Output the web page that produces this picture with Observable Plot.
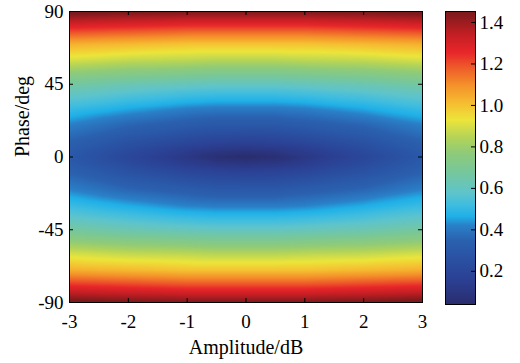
<!DOCTYPE html>
<html><head><meta charset="utf-8">
<script src="https://cdn.jsdelivr.net/npm/d3@7"></script>
<script src="https://cdn.jsdelivr.net/npm/@observablehq/plot@0.6"></script>
<style>
body{margin:0;background:#fff}
#wrap{position:relative;width:520px;height:363px;background:#fff}
#wrap svg{position:absolute;left:0;top:0}
#wrap svg text{font-family:"Liberation Serif","Times New Roman",serif}
</style>
</head><body><div id="wrap"></div>
<script>
// ---- data ----
const amplitude = [-3, -2, -1, -0.5, 0, 0.5, 1, 2, 3];          // dB
const phase = [90, 80, 70, 60, 50, 45, 40, 30, 20, 10, 5, 0,
               -5, -10, -20, -30, -40, -45, -50, -60, -70, -80, -90]; // deg
const level = [
  [1.48,1.46,1.45,1.45,1.45,1.45,1.45,1.46,1.48],
  [1.26,1.24,1.22,1.22,1.22,1.22,1.22,1.24,1.26],
  [1.04,1.02,1.00,1.00,1.00,1.00,1.00,1.02,1.04],
  [0.90,0.87,0.86,0.85,0.85,0.85,0.86,0.87,0.90],
  [0.74,0.71,0.69,0.68,0.68,0.68,0.69,0.71,0.74],
  [0.67,0.63,0.61,0.60,0.60,0.60,0.61,0.63,0.67],
  [0.61,0.57,0.54,0.53,0.53,0.53,0.54,0.57,0.61],
  [0.51,0.46,0.42,0.41,0.41,0.41,0.42,0.46,0.51],
  [0.42,0.36,0.32,0.30,0.30,0.30,0.32,0.36,0.42],
  [0.35,0.27,0.21,0.19,0.18,0.19,0.21,0.27,0.35],
  [0.32,0.23,0.15,0.12,0.11,0.12,0.15,0.23,0.32],
  [0.30,0.20,0.11,0.06,0.04,0.06,0.11,0.20,0.30],
  [0.32,0.23,0.15,0.12,0.11,0.12,0.15,0.23,0.32],
  [0.35,0.27,0.21,0.19,0.18,0.19,0.21,0.27,0.35],
  [0.42,0.36,0.32,0.30,0.30,0.30,0.32,0.36,0.42],
  [0.51,0.46,0.42,0.41,0.41,0.41,0.42,0.46,0.51],
  [0.61,0.57,0.54,0.53,0.53,0.53,0.54,0.57,0.61],
  [0.67,0.63,0.61,0.60,0.60,0.60,0.61,0.63,0.67],
  [0.74,0.71,0.69,0.68,0.68,0.68,0.69,0.71,0.74],
  [0.90,0.87,0.86,0.85,0.85,0.85,0.86,0.87,0.90],
  [1.04,1.02,1.00,1.00,1.00,1.00,1.00,1.02,1.04],
  [1.26,1.24,1.22,1.22,1.22,1.22,1.22,1.24,1.26],
  [1.48,1.46,1.45,1.45,1.45,1.45,1.45,1.46,1.48]
];
const ampTicks = [-3, -2, -1, 0, 1, 2, 3];
const phaseTicks = [-90, -45, 0, 45, 90];
const barTicks = [0.2, 0.4, 0.6, 0.8, 1.0, 1.2, 1.4];
const barRange = [0.04, 1.453];

// ---- style: jet-like palette as printed ----
const stopColors = ["#2a2d6e","#2b3f92","#2a50a2","#2a62b0","#2a80c8","#1fb0e8","#3fbde0","#5ec4cc",
  "#76c79c","#90cb78","#b4d458","#ece53a","#f5c232","#f4902a","#ee5a2a","#e8262a","#c41f24","#7a1a1c"];
const stopT = [0,0.08,0.15,0.22,0.27,0.30,0.34,0.38,0.45,0.52,0.57,0.63,0.68,0.75,0.81,0.86,0.92,1];
const stopValues = stopT.map(t => barRange[0] + t * (barRange[1] - barRange[0]));
const colorOpts = {type: "linear", domain: stopValues, range: stopColors, interpolate: "rgb", clamp: true};

const points = [];
phase.forEach((p, i) => amplitude.forEach((a, j) => points.push({a, p, v: level[i][j]})));

const W = 520, H = 363;
const mL = 69, mR = 98, mT = 11, mB = 61;
const fw = W - mL - mR, fh = H - mT - mB;
const font = "Liberation Serif, Times New Roman, serif";
const fmt = d => String(d);

const main = Plot.plot({
  width: W, height: H,
  marginLeft: mL, marginRight: mR, marginTop: mT, marginBottom: mB,
  style: {fontFamily: font, fontSize: "19px", color: "#000", background: "transparent", overflow: "visible"},
  x: {domain: [-3, 3]},
  y: {domain: [-90, 90]},
  color: colorOpts,
  marks: [
    Plot.raster(points, {x: "a", y: "p", fill: "v", interpolate: "barycentric"}),
    Plot.frame({stroke: "#000", strokeWidth: 1}),
    Plot.tickX(ampTicks, {x: d => d, insetTop: fh - 4, stroke: "#000"}),
    Plot.tickX(ampTicks, {x: d => d, insetBottom: fh - 4, stroke: "#000"}),
    Plot.tickY(phaseTicks, {y: d => d, insetRight: fw - 4, stroke: "#000"}),
    Plot.tickY(phaseTicks, {y: d => d, insetLeft: fw - 4, stroke: "#000"}),
    Plot.axisX(ampTicks, {anchor: "bottom", tickSize: 0, tickPadding: 12, tickFormat: fmt, label: null}),
    Plot.axisY(phaseTicks, {anchor: "left", tickSize: 0, tickPadding: 6, tickFormat: fmt, label: null}),
    Plot.text(["Amplitude/dB"], {text: d => d, frameAnchor: "bottom", dy: 51, fontSize: 20}),
    Plot.text(["Phase/deg"], {text: d => d, frameAnchor: "left", dx: -47, rotate: -90, fontSize: 20})
  ]
});

const bar = Plot.plot({
  width: W, height: H,
  marginLeft: 445, marginRight: 45, marginTop: 11, marginBottom: 59,
  style: {fontFamily: font, fontSize: "19px", color: "#000", background: "transparent", overflow: "visible"},
  x: {domain: [0, 1], axis: null},
  y: {domain: barRange},
  color: colorOpts,
  marks: [
    Plot.raster({fill: (x, y) => y, x1: 0, x2: 1, y1: barRange[0], y2: barRange[1]}),
    Plot.frame({stroke: "#000", strokeWidth: 1}),
    Plot.tickY(barTicks, {y: d => d, insetLeft: 26, stroke: "#000"}),
    Plot.axisY(barTicks, {anchor: "right", tickSize: 0, tickPadding: 4, tickFormat: d3.format(".1f"), label: null})
  ]
});

const wrap = document.getElementById("wrap");
wrap.appendChild(main);
wrap.appendChild(bar);
</script></body></html>
